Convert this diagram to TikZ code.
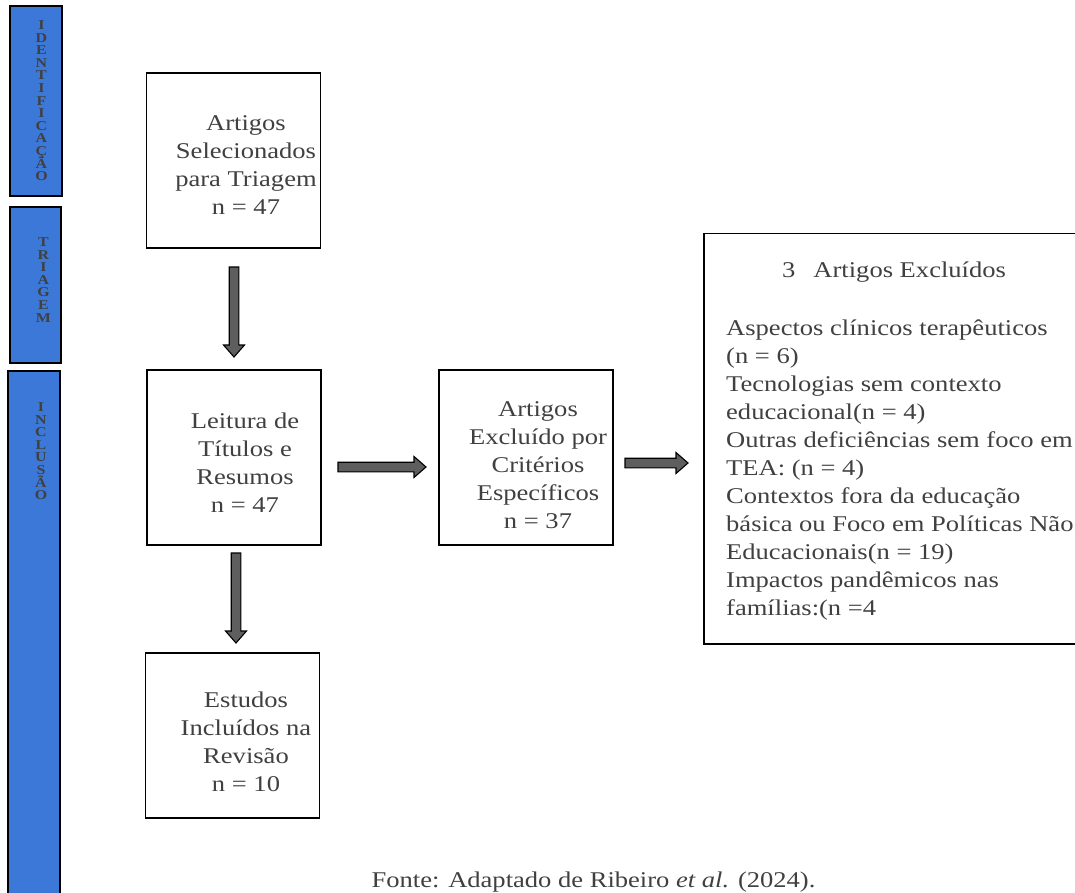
\documentclass[tikz,border=0pt]{standalone}
\usepackage{fontspec}
\setmainfont{Liberation Serif}[FakeStretch=1.18]
\usepackage{xcolor}
\usepackage{tikz}
\usetikzlibrary{calc}

\definecolor{azulbarra}{HTML}{3C78D8}
\definecolor{cinzatexto}{HTML}{404040}
\definecolor{cinzaseta}{HTML}{5E5E5E}

\newcommand{\setabloco}[2]{%
    \coordinate (ponta) at ($(#2)!12pt!(#1)$);
    \filldraw[seta] ($(#1)!4.8pt!90:(#2)$) -- ($(ponta)!4.8pt!90:(#2)$) -- ($(ponta)!10.5pt!90:(#2)$) -- (#2)
        -- ($(ponta)!10.5pt!-90:(#2)$) -- ($(ponta)!4.8pt!-90:(#2)$) -- ($(#1)!4.8pt!-90:(#2)$) -- cycle;}

\begin{document}
\begin{tikzpicture}[x=1pt,y=-1pt,
    caixa/.style={draw,line width=1.5pt,minimum width=174pt,minimum height=175pt,inner sep=0pt},
    barra/.style={draw,fill=azulbarra,line width=1.8pt,minimum width=52pt,inner sep=0pt},
    letras/.style={text=cinzatexto,font=\fontsize{13.5}{12.6}\selectfont\bfseries,align=center,inner sep=0pt,anchor=north,
        execute at begin node={\lineskiplimit=-10pt}},
    rotulo/.style={text=cinzatexto,font=\fontsize{22.5}{28}\selectfont,align=center,inner sep=0pt},
    seta/.style={fill=cinzaseta,draw=black,line width=1.1pt,line join=miter}]

                \clip (0,0) rectangle (1075,893);

                \node[barra,minimum height=190pt] (barid) at (36,101) {};
                \node[barra,minimum width=51pt,minimum height=156pt] (bartri) at (35.5,285) {};
                \node[barra,minimum height=534pt] (barinc) at (34,638) {};
                \node[letras] (txtid) at (41.5,20.5) {I\\D\\E\\N\\T\\I\\F\\I\\C\\A\\Ç\\Ã\\O};
                \node[letras] (txttri) at (43.5,237.5) {T\\R\\I\\A\\G\\E\\M};
                \node[letras] (txtinc) at (41,402.5) {I\\N\\C\\L\\U\\S\\Ã\\O};

                \node[caixa,label={[rotulo,xshift=12.5pt,yshift=-5pt]center:{Artigos\\Selecionados\\para Triagem\\n = 47}}] (selec) at (233.5,160.5) {};
                \node[caixa,label={[rotulo,xshift=11pt,yshift=-5pt]center:{Leitura de\\Títulos e\\Resumos\\n = 47}}] (leitura) at (234,457.5) {};
                \node[caixa,label={[rotulo,xshift=12pt,yshift=-8pt]center:{Artigos\\Excluído por\\Critérios\\Específicos\\n = 37}}] (crit) at (526,457.5) {};
                \node[caixa,minimum height=165pt,label={[rotulo,xshift=13.5pt,yshift=-6pt]center:{Estudos\\Incluídos na\\Revisão\\n = 10}}] (incl) at (232.5,735.5) {};
                \node[caixa,minimum width=385pt,minimum height=410pt,anchor=north west] (excl) at (703,233) {};
                \node[rotulo,align=left,anchor=north west] (excltxt) at (726,262) {\hspace*{56pt}3\hspace{18pt}Artigos Excluídos\\[30pt]
                    Aspectos clínicos terapêuticos\\(n = 6)\\Tecnologias sem contexto\\educacional(n = 4)\\Outras deficiências sem foco em\\TEA: (n = 4)\\
                    Contextos fora da educação\\básica ou Foco em Políticas Não\\Educacionais(n = 19)\\Impactos pandêmicos nas\\famílias:(n =4};

                \coordinate (s1a) at (234,267);
                \coordinate (s1b) at (234,357);
                \coordinate (s2a) at (338,467);
                \coordinate (s2b) at (426,467);
                \coordinate (s3a) at (625,463);
                \coordinate (s3b) at (688,463);
                \coordinate (s4a) at (236,553);
                \coordinate (s4b) at (236,643);
                \setabloco{s1a}{s1b}
                \setabloco{s2a}{s2b}
                \setabloco{s3a}{s3b}
                \setabloco{s4a}{s4b}

                \node[rotulo,anchor=base] (fonte) at (593.5,887) {Fonte: Adaptado de Ribeiro \textit{et al.} (2024).};
            \end{tikzpicture}
\end{document}
